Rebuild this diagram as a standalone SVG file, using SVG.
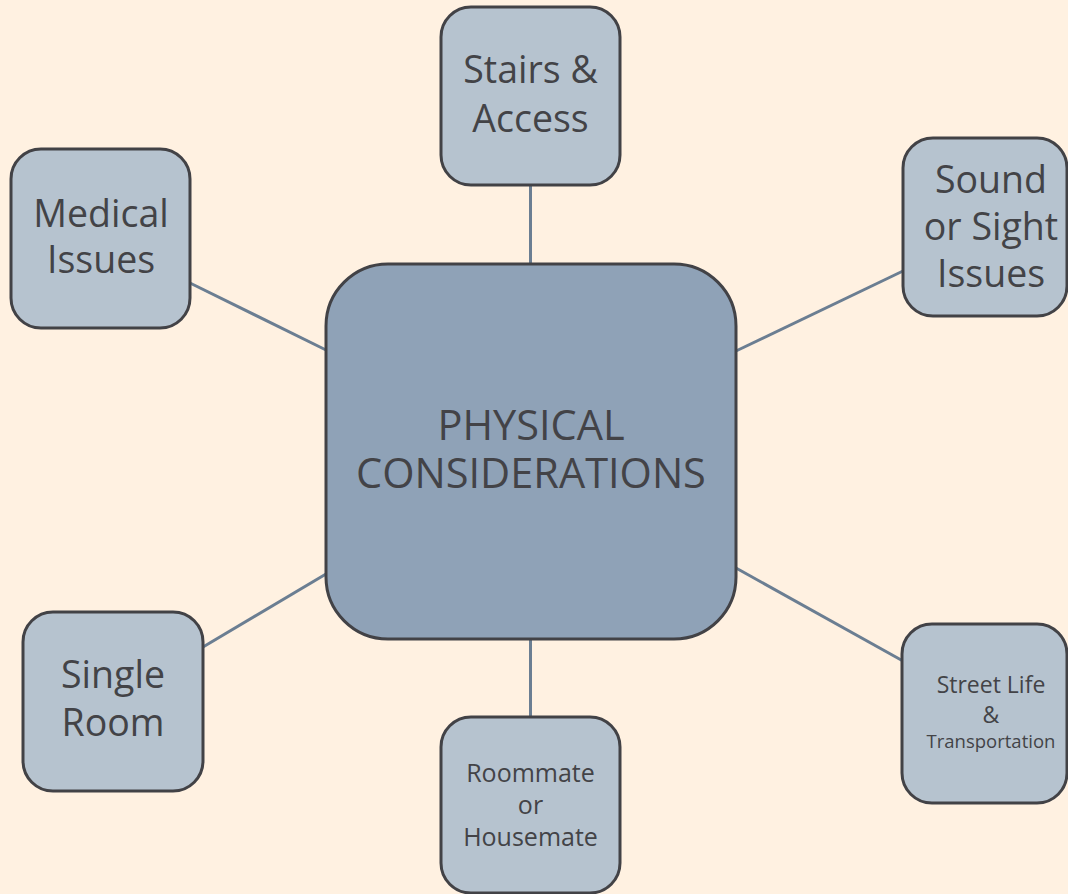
<svg xmlns="http://www.w3.org/2000/svg" width="1068" height="894" viewBox="0 0 1068 894">
<style>
.bg{fill:#fff1e1}
.node{fill:#b6c3cf;stroke:#424246;stroke-width:3}
.center{fill:#8fa2b7;stroke:#424246;stroke-width:3}
.conn{stroke:#6b7e92;stroke-width:3;fill:none}
text{font-family:"Open Sans","Noto Sans","DejaVu Sans",sans-serif;fill:#434347;text-anchor:middle}
.big{font-size:37.5px}
.mid{font-size:25px}
.ctr{font-size:41.5px}
</style>
<rect class="bg" x="0" y="0" width="1068" height="894"/>
<g id="connectors">
<line class="conn" x1="530.5" y1="185" x2="530.5" y2="264"/>
<line class="conn" x1="530.5" y1="639" x2="530.5" y2="717"/>
<line class="conn" x1="190" y1="283" x2="326" y2="350"/>
<line class="conn" x1="736" y1="351" x2="903" y2="271"/>
<line class="conn" x1="203" y1="647" x2="326" y2="574"/>
<line class="conn" x1="736" y1="568" x2="903" y2="661"/>
</g>
<g id="center">
<rect class="center" x="326" y="264" width="410" height="375" rx="62" ry="62"/>
<text class="ctr" x="531" y="440">PHYSICAL</text>
<text class="ctr" x="531" y="488">CONSIDERATIONS</text>
</g>
<g id="stairs">
<rect class="node" x="441" y="7" width="179" height="178" rx="30" ry="30"/>
<text class="big" x="530.5" y="83">Stairs &amp;</text>
<text class="big" x="530.5" y="132">Access</text>
</g>
<g id="medical">
<rect class="node" x="11" y="149" width="179" height="179" rx="30" ry="30"/>
<text class="big" x="101" y="227">Medical</text>
<text class="big" x="101" y="273">Issues</text>
</g>
<g id="sound">
<rect class="node" x="903" y="138" width="164" height="178" rx="30" ry="30"/>
<text class="big" x="991" y="193">Sound</text>
<text class="big" x="991" y="240">or Sight</text>
<text class="big" x="991" y="287">Issues</text>
</g>
<g id="single">
<rect class="node" x="23" y="612" width="180" height="179" rx="30" ry="30"/>
<text class="big" x="113" y="688">Single</text>
<text class="big" x="113" y="736">Room</text>
</g>
<g id="roommate">
<rect class="node" x="441" y="717" width="179" height="176" rx="30" ry="30"/>
<text class="mid" x="530.5" y="782">Roommate</text>
<text class="mid" x="530.5" y="814">or</text>
<text class="mid" x="530.5" y="846">Housemate</text>
</g>
<g id="street">
<rect class="node" x="902" y="624" width="165" height="179" rx="30" ry="30"/>
<text x="991" y="693" style="font-size:23px">Street Life</text>
<text x="991" y="723" style="font-size:23px">&amp;</text>
<text x="991" y="748" style="font-size:18.5px">Transportation</text>
</g>
</svg>
